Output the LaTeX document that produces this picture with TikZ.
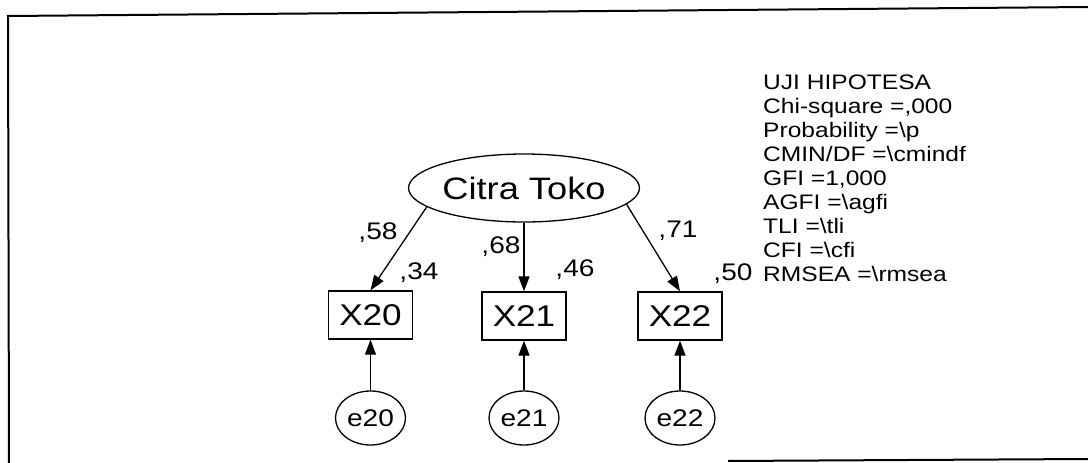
\documentclass[tikz,border=0pt]{standalone}
\usepackage{fontspec}
\setmainfont{Liberation Sans}
\usetikzlibrary{arrows.meta,shapes.geometric}
\newcommand{\mytxt}[2]{\scalebox{1.17}[1]{\fontsize{#1}{#1}\selectfont #2}}
\begin{document}
\begin{tikzpicture}[x=1pt,y=-1pt,
  lat/.style={ellipse,draw,line width=1.3pt,minimum width=228pt,minimum height=68pt,inner sep=0pt},
  obs/.style={rectangle,draw,line width=1.3pt,minimum width=84pt,minimum height=48pt,inner sep=0pt},
  err/.style={ellipse,draw,line width=1.3pt,minimum width=70pt,minimum height=54pt,inner sep=0pt},
  conn/.style={draw,line width=1.3pt,-{Triangle[length=15pt,width=11pt]}},
  lbl/.style={inner sep=0pt},
  frame/.style={line width=2pt}]
\useasboundingbox (0,0) rectangle (1088,463);
% frame
\draw[frame] (9,463) -- (8,16) -- (1088,7);
\draw[frame] (728,461) -- (1088,459);
% nodes
\node[lat] (citra) at (524,188) {\mytxt{31}{Citra Toko}};
\node[obs] (x20) at (370.5,315) {\mytxt{30}{X20}};
\node[obs] (x21) at (524,316) {\mytxt{30}{X21}};
\node[obs] (x22) at (680,316) {\mytxt{30}{X22}};
\node[err] (e20) at (370.5,418) {\mytxt{24}{e20}};
\node[err] (e21) at (524,418) {\mytxt{24}{e21}};
\node[err] (e22) at (680,418) {\mytxt{24}{e22}};
% connectors
\draw[conn] (citra.191) -- (x20.north);
\draw[conn] (citra.south) -- (x21.north);
\draw[conn] (citra.351) -- (x22.north);
\draw[conn] (e20.north) -- (x20.south);
\draw[conn] (e21.north) -- (x21.south);
\draw[conn] (e22.north) -- (x22.south);
% labels
\node[lbl] (l58) at (378,233) {\mytxt{24}{,58}};
\node[lbl] (l34) at (419,273) {\mytxt{24}{,34}};
\node[lbl] (l68) at (501,247) {\mytxt{24}{,68}};
\node[lbl] (l46) at (575,270) {\mytxt{24}{,46}};
\node[lbl] (l71) at (678,231) {\mytxt{24}{,71}};
\node[lbl] (l50) at (733,274) {\mytxt{24}{,50}};
% fit statistics
\node[anchor=north west,inner sep=0pt] (stats) at (763,75) {\scalebox{1.17}[1]{\fontsize{21}{24}\selectfont\vbox{%
\hbox{UJI HIPOTESA}%
\hbox{Chi-square =,000}%
\hbox{Probability =\textbackslash p}%
\hbox{CMIN/DF =\textbackslash cmindf}%
\hbox{GFI =1,000}%
\hbox{AGFI =\textbackslash agfi}%
\hbox{TLI =\textbackslash tli}%
\hbox{CFI =\textbackslash cfi}%
\hbox{RMSEA =\textbackslash rmsea}}}};
\end{tikzpicture}
\end{document}
